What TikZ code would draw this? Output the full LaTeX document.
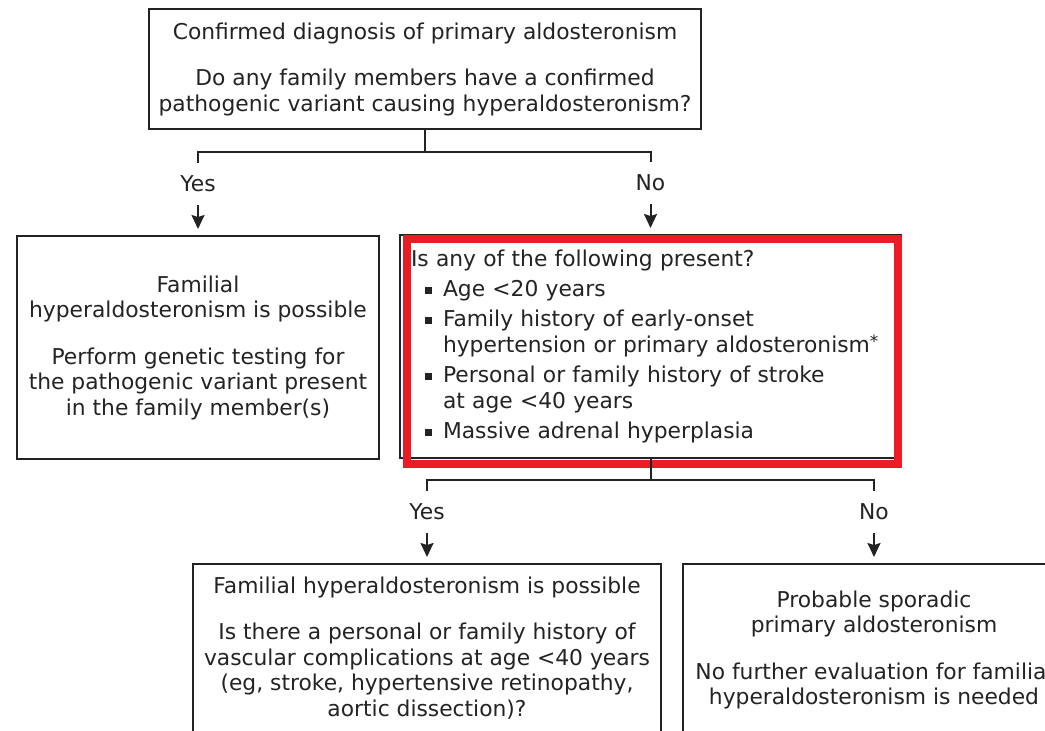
\documentclass[tikz,border=0pt]{standalone}
\usepackage{fontspec}
\setmainfont{DejaVu Sans}
\usetikzlibrary{arrows.meta,positioning}

\definecolor{framered}{RGB}{236,28,36}
\definecolor{boxgray}{RGB}{35,35,35}
\newcommand{\bitem}{\hspace*{14pt}\rule[3pt]{7pt}{7pt}\hspace*{11pt}}
\newcommand{\bcont}{\hspace*{32pt}}

\begin{document}
\begin{tikzpicture}[x=1pt, y=-1pt,
  font=\fontsize{21.8pt}{25.5pt}\selectfont, text=boxgray,
  box/.style={draw=boxgray, line width=2pt, inner sep=0pt, align=center},
  choice/.style={inner xsep=2pt, inner ysep=13.5pt, text height=15pt, text depth=0pt},
  link/.style={draw=boxgray, line width=2pt},
  arrow/.style={link, -{Stealth[length=14pt,width=13pt,inset=2pt]}, shorten >=6pt}]
\useasboundingbox (0,0) rectangle (1045,731);
\clip (0,0) rectangle (1045,731);

% boxes
\node[box, minimum width=552pt, minimum height=120pt, anchor=north west] (confirm) at (148,8)
  {Confirmed diagnosis of primary aldosteronism\\[21pt]
   Do any family members have a confirmed\\
   pathogenic variant causing hyperaldosteronism?};
\node[box, minimum width=362pt, minimum height=223pt, anchor=north west] (familial) at (16,235)
  {Familial\\
   hyperaldosteronism is possible\\[21pt]
   Perform genetic testing for\\
   the pathogenic variant present\\
   in the family member(s)};
\node[box, minimum width=501pt, minimum height=223pt, anchor=north west,
      align=left, text width=479pt] (query) at (399,234)
  {Is any of the following present?\\[4.5pt]
   \bitem Age <20 years\\[4.5pt]
   \bitem Family history of early-onset\\
   \bcont hypertension or primary aldosteronism\raisebox{5pt}{\fontsize{17pt}{20pt}\selectfont *}\\[5pt]
   \bitem Personal or family history of stroke\\
   \bcont at age <40 years\\[5pt]
   \bitem Massive adrenal hyperplasia};
\node[box, anchor=north west] (vascular) at (192,563)
  {\parbox[t][200pt][t]{468pt}{\centering
   \rule{0pt}{29pt}Familial hyperaldosteronism is possible\\[21pt]
   Is there a personal or family history of\\
   vascular complications at age <40 years\\
   (eg, stroke, hypertensive retinopathy,\\
   aortic dissection)?}};
\node[box, anchor=north west] (sporadic) at (682,563)
  {\parbox[t][200pt][t]{382pt}{\centering
   \rule{0pt}{43pt}Probable sporadic\\
   primary aldosteronism\\[21pt]
   No further evaluation for familial\\
   hyperaldosteronism is needed}};

% red highlight
\draw[framered, line width=8pt] ([shift={(7.5,4.5)}]query.north west) rectangle ([shift={(-4,5)}]query.south east);

% branch labels
\node[choice, above=30pt of familial] (yes1) {Yes};
\node[choice, above=30pt of query] (no1) {No};
\node[choice, above=30pt of vascular] (yes2) {Yes};
\node[choice, above=30pt of sporadic] (no2) {No};

% connectors
\draw[link] (confirm.south) -- ++(0,22) coordinate (split1);
\draw[link] (yes1.north) |- (split1) -| (no1.north);
\draw[arrow] (yes1) -- (familial);
\draw[arrow] (no1) -- (query);
\draw[link] (query.south) -- ++(0,21) coordinate (split2);
\draw[link] (yes2.north) |- (split2) -| (no2.north);
\draw[arrow] (yes2) -- (vascular);
\draw[arrow] (no2) -- (sporadic);
\end{tikzpicture}
\end{document}
